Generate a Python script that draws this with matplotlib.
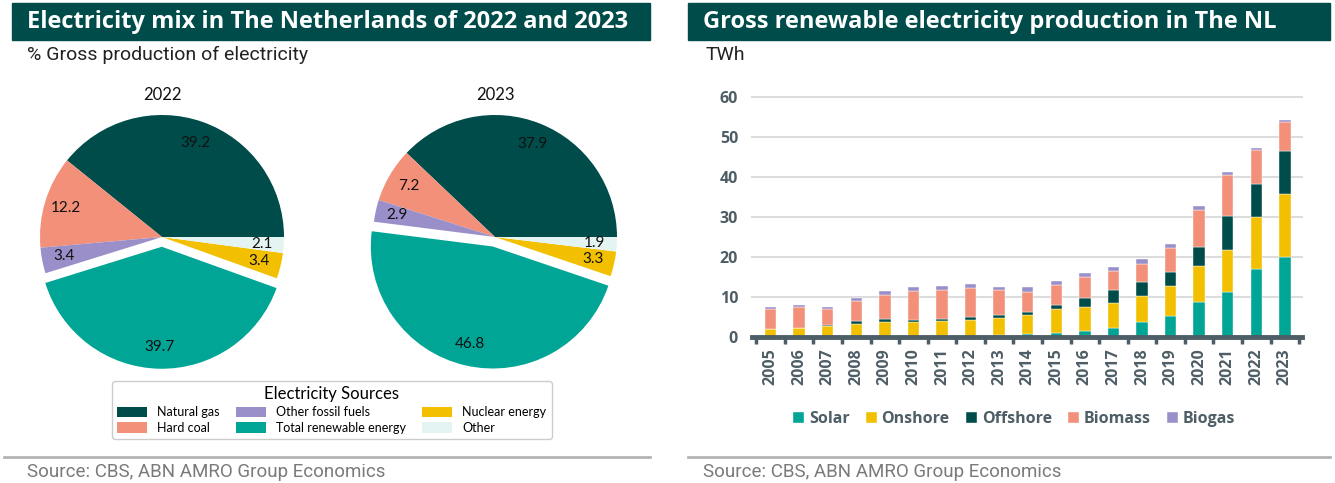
import numpy as np
import matplotlib
matplotlib.use("Agg")
import matplotlib.pyplot as plt
from matplotlib.patches import Rectangle
from matplotlib.lines import Line2D

# --- data -------------------------------------------------------------
sources = ['Natural gas', 'Hard coal', 'Other fossil fuels',
           'Total renewable energy', 'Nuclear energy', 'Other']
mix_2022 = [39.2, 12.2, 3.4, 39.7, 3.4, 2.1]
mix_2023 = [37.9, 7.2, 2.9, 46.8, 3.3, 1.9]

years = [2005, 2006, 2007, 2008, 2009, 2010, 2011, 2012, 2013, 2014,
         2015, 2016, 2017, 2018, 2019, 2020, 2021, 2022, 2023]
solar = [0.03, 0.04, 0.04, 0.04, 0.05, 0.06, 0.1, 0.25, 0.5, 0.8,
         1.1, 1.6, 2.2, 3.7, 5.3, 8.8, 11.3, 17.0, 19.9]
onshore = [1.87, 2.26, 2.71, 3.26, 3.7, 3.7, 3.8, 4.0, 4.3, 4.8,
           5.8, 5.9, 6.3, 6.5, 7.45, 8.9, 10.4, 13.0, 15.8]
offshore = [0.0, 0.0, 0.35, 0.6, 0.65, 0.55, 0.7, 0.75, 0.8, 0.7,
            1.0, 2.3, 3.25, 3.5, 3.45, 4.9, 8.5, 8.3, 10.8]
biomass = [5.2, 5.3, 4.0, 5.0, 6.1, 7.1, 7.1, 7.2, 6.1, 5.0,
           5.2, 5.1, 4.85, 4.6, 6.0, 9.2, 10.2, 8.45, 7.25]
biogas = [0.4, 0.4, 0.5, 0.85, 0.9, 1.0, 1.0, 1.0, 0.9, 1.2,
          1.0, 1.0, 1.0, 1.1, 1.0, 1.0, 0.8, 0.4, 0.45]

pie_colors = ['#004C4A', '#F3907A', '#9A8FC9', '#00A596', '#F2C000', '#E4F4F2']
bar_series = [('Solar', solar, '#00A596'), ('Onshore', onshore, '#F2C000'),
              ('Offshore', offshore, '#004C4A'), ('Biomass', biomass, '#F3907A'),
              ('Biogas', biogas, '#9A8FC9')]

W, H = 1335, 483
fig = plt.figure(figsize=(W / 100, H / 100), dpi=100)
header = '#004C4A'
axis_grey = '#4E5E66'


def fx(px):
    return px / W


def fy(py):
    return 1 - py / H


# headers and footers
for x0, x1, title in [(12, 650, 'Electricity mix in The Netherlands of 2022 and 2023'),
                      (688, 1330, 'Gross renewable electricity production in The NL')]:
    fig.patches.append(Rectangle((fx(x0), fy(40)), fx(x1 - x0), (40 - 3) / H,
                                 transform=fig.transFigure, color=header, zorder=0))
    fig.text(fx(x0 + 15), fy(22), title, color='white', fontsize=17,
             fontweight='bold', family='Open Sans', va='center', ha='left')
    fig.add_artist(Line2D([fx(x0 - 8 if x0 < 100 else x0), fx(x1)], [fy(457), fy(457)],
                          color='#B4B4B4', lw=2, transform=fig.transFigure))
    fig.text(fx(x0 + 15), fy(472), 'Source: CBS, ABN AMRO Group Economics',
             color='#7A7A7A', fontsize=13.5, family='Roboto', va='center')

fig.text(fx(27), fy(55), '% Gross production of electricity', fontsize=14,
         family='Roboto', va='center', color='#222222')
fig.text(fx(706), fy(55), 'TWh', fontsize=14, family='Roboto', va='center',
         color='#222222')

# --- pies ---------------------------------------------------------------
R = 122
wedges = None
for cx, year, vals in [(162, '2022', mix_2022), (495, '2023', mix_2023)]:
    ax = fig.add_axes([fx(cx - R), fy(237 + R), fx(2 * R), 2 * R / H])
    w, t, a = ax.pie(vals, colors=pie_colors, startangle=0, counterclock=True,
                     explode=[0, 0, 0, 0.08, 0, 0], autopct='%.1f',
                     pctdistance=0.82, wedgeprops=dict(linewidth=0),
                     textprops=dict(fontsize=11, family='Lato', color='#111111'))
    ax.set_xlim(-1, 1)
    ax.set_ylim(-1, 1)
    for p in w:
        p.set_clip_on(False)
    if wedges is None:
        wedges = w
    fig.text(fx(cx), fy(95), year, fontsize=12, family='Lato', ha='center',
             va='center', color='#111111')

leg = fig.legend(wedges, sources, ncol=3, loc='center',
                 bbox_to_anchor=(fx(332), fy(410)), title='Electricity Sources',
                 prop=dict(family='Lato', size=9), title_fontproperties=dict(family='Lato', size=12),
                 handlelength=2.4, handleheight=0.9, columnspacing=1.3,
                 labelspacing=0.3, borderpad=0.4, frameon=True, fancybox=True,
                 edgecolor='#CCCCCC', framealpha=1)

# --- stacked bars -------------------------------------------------------
ax2 = fig.add_axes([fx(752), fy(337), fx(1302 - 752), (337 - 97) / H])
x = np.arange(len(years))
bottom = np.zeros(len(years))
handles = []
for name, vals, col in bar_series:
    b = ax2.bar(x, vals, 0.4, bottom=bottom, color=col, label=name,
                edgecolor='white', linewidth=0.3, zorder=3)
    bottom += np.array(vals)
    handles.append(b)

ax2.set_xlim(-0.65, len(years) - 0.4)
ax2.set_ylim(0, 60)
ax2.set_yticks(range(0, 61, 10))
ax2.grid(axis='y', color='#DCDCDC', lw=1.5, zorder=0, clip_on=False)
for s in ['left', 'right', 'top']:
    ax2.spines[s].set_visible(False)
ax2.spines['bottom'].set_color(axis_grey)
ax2.spines['bottom'].set_linewidth(3.5)
ax2.spines['bottom'].set_zorder(4)
ax2.set_xticks(x)
ax2.set_xticklabels([str(y) for y in years], rotation=90, fontsize=11.5,
                    fontweight='bold', family='Open Sans', color=axis_grey)
ax2.set_xticks(np.arange(-0.5, len(years), 1), minor=True)
ax2.tick_params(axis='x', which='major', length=0, pad=8)
ax2.tick_params(axis='x', which='minor', length=5, width=2.5, color=axis_grey)
ax2.tick_params(axis='y', length=0, pad=10)
for lab in ax2.get_yticklabels():
    lab.set_fontweight('bold')
    lab.set_family('Open Sans')
    lab.set_fontsize(11.5)
    lab.set_color(axis_grey)

lg2 = fig.legend(handles, [s[0] for s in bar_series], ncol=5, loc='center',
                 bbox_to_anchor=(fx(1014), fy(419)), frameon=False,
                 prop=dict(family='Open Sans', weight='bold', size=11.5),
                 handlelength=0.7, handleheight=0.7, handletextpad=0.3,
                 columnspacing=1.0)
for t in lg2.get_texts():
    t.set_color(axis_grey)

fig.savefig('out.png', dpi=100)
